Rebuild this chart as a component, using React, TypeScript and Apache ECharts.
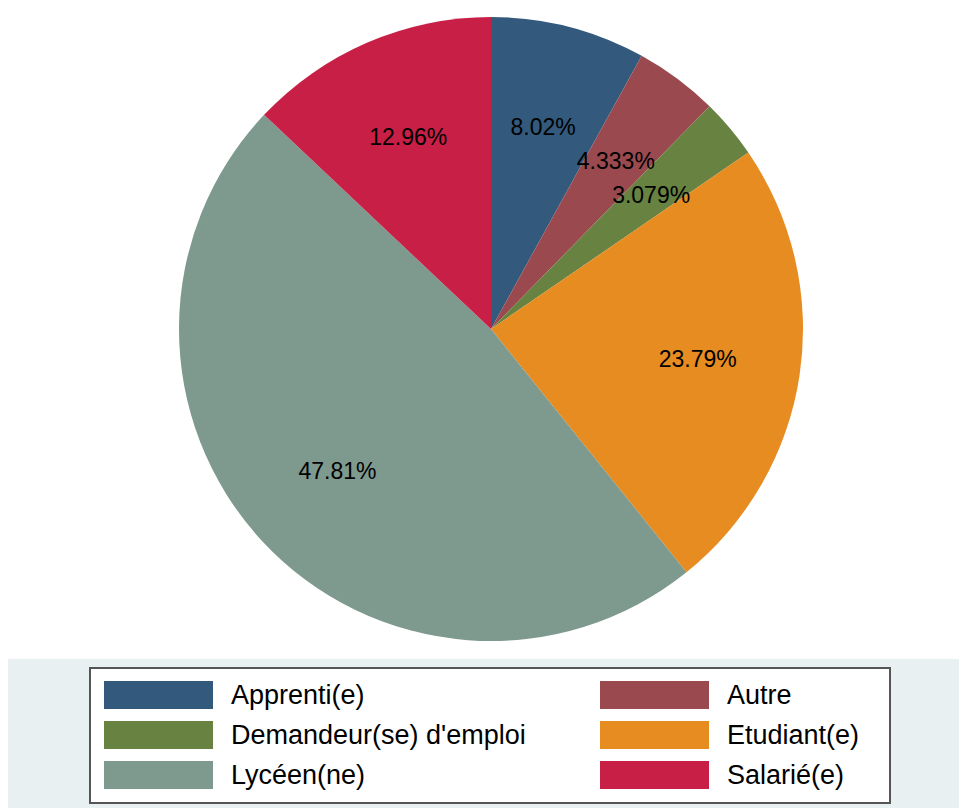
import React, { useEffect, useRef } from "react";
import * as echarts from "echarts";

const categories = [
  "Apprenti(e)",
  "Autre",
  "Demandeur(se) d'emploi",
  "Etudiant(e)",
  "Lycéen(ne)",
  "Salarié(e)",
];
const percents = [8.02, 4.333, 3.079, 23.79, 47.81, 12.96];
const colors = ["#33597D", "#9A4A4F", "#678241", "#E68C20", "#7E998E", "#C81F46"];
const legendLeft = ["Apprenti(e)", "Demandeur(se) d'emploi", "Lycéen(ne)"];
const legendRight = ["Autre", "Etudiant(e)", "Salarié(e)"];

const FONT = "'Liberation Sans', Arial, Helvetica, sans-serif";

export default function App() {
  const ref = useRef<HTMLDivElement>(null);
  useEffect(() => {
    if (!ref.current) return;
    const chart = echarts.init(ref.current, null, { renderer: "svg" });
    const legendCommon = {
      orient: "vertical",
      padding: 0,
      itemWidth: 109,
      itemHeight: 28,
      itemGap: 12,
      icon: "rect",
      z: 10,
      selectedMode: false,
      textStyle: {
        fontFamily: FONT,
        fontSize: 27,
        color: "#000",
        lineHeight: 28,
        padding: [0, 0, 0, 13],
      },
    };
    chart.setOption({
      animation: false,
      backgroundColor: "#ffffff",
      graphic: [
        {
          type: "rect",
          z: 0,
          shape: { x: 8, y: 659, width: 951, height: 149 },
          style: { fill: "#E8F0F2" },
        },
        {
          type: "rect",
          z: 1,
          shape: { x: 90, y: 668, width: 800, height: 135 },
          style: { fill: "#ffffff", stroke: "#555555", lineWidth: 2 },
        },
      ],
      legend: [
        { ...legendCommon, left: 104, top: 681, data: legendLeft },
        { ...legendCommon, left: 600, top: 681, data: legendRight },
      ],
      series: [
        {
          type: "pie",
          center: [491, 329],
          radius: [0, 312],
          startAngle: 90,
          clockwise: true,
          label: { show: false },
          labelLine: { show: false },
          emphasis: { disabled: true },
          itemStyle: { borderWidth: 0 },
          data: categories.map((c, i) => ({
            name: c,
            value: percents[i],
            itemStyle: { color: colors[i] },
          })),
        },
        {
          type: "pie",
          center: [491, 329],
          radius: [194, 218],
          startAngle: 90,
          clockwise: true,
          silent: true,
          legendHoverLink: false,
          emphasis: { disabled: true },
          itemStyle: { color: "rgba(0,0,0,0)", borderWidth: 0 },
          label: {
            show: true,
            position: "inside",
            formatter: "{c}%",
            fontFamily: FONT,
            fontSize: 23,
            color: "#000",
            rotate: 0,
          },
          labelLine: { show: false },
          data: categories.map((c, i) => ({ name: c, value: percents[i] })),
        },
      ],
    });
    return () => chart.dispose();
  }, []);
  return (
    <div
      ref={ref}
      style={{ position: "fixed", left: 0, top: 0, width: 959, height: 808 }}
    />
  );
}
